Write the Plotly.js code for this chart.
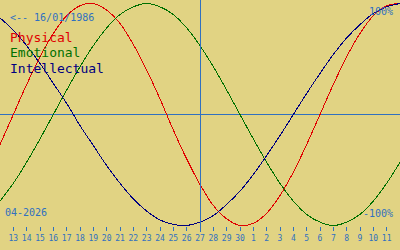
<!DOCTYPE html>
<html>
<head>
<meta charset="utf-8">
<script src="https://cdn.plot.ly/plotly-3.0.1.min.js"></script>
<style>
html,body{margin:0;padding:0;background:#e1d383;}
#chart{width:400px;height:250px;}
.scatterlayer path, .shapelayer path, .xtick, .crisp {shape-rendering: crispEdges;}
</style>
</head>
<body>
<div id="chart"></div>
<script>
// Dates shown (12 Apr 2026 .. 12 May 2026)
const dates = ['2026-04-12','2026-04-13','2026-04-14','2026-04-15','2026-04-16','2026-04-17','2026-04-18','2026-04-19','2026-04-20','2026-04-21','2026-04-22','2026-04-23','2026-04-24','2026-04-25','2026-04-26','2026-04-27','2026-04-28','2026-04-29','2026-04-30','2026-05-01','2026-05-02','2026-05-03','2026-05-04','2026-05-05','2026-05-06','2026-05-07','2026-05-08','2026-05-09','2026-05-10','2026-05-11','2026-05-12'];
const physical = [-0.27,0,0.27,0.52,0.73,0.89,0.98,1.00,0.94,0.82,0.63,0.40,0.14,-0.14,-0.40,-0.63,-0.82,-0.94,-1.00,-0.98,-0.89,-0.73,-0.52,-0.27,0,0.27,0.52,0.73,0.89,0.98,1.00];
const emotional = [-0.78,-0.62,-0.43,-0.22,0,0.22,0.43,0.62,0.78,0.90,0.97,1.00,0.97,0.90,0.78,0.62,0.43,0.22,0,-0.22,-0.43,-0.62,-0.78,-0.90,-0.97,-1.00,-0.97,-0.90,-0.78,-0.62,-0.43];
const intellectual = [0.87,0.76,0.62,0.46,0.28,0.10,-0.10,-0.28,-0.46,-0.62,-0.76,-0.87,-0.95,-0.99,-1.00,-0.97,-0.91,-0.81,-0.69,-0.54,-0.37,-0.19,0,0.19,0.37,0.54,0.69,0.81,0.91,0.97,1.00];
const tickDates = dates.slice(1, 30);
const tickLabels = ['13','14','15','16','17','18','19','20','21','22','23','24','25','26','27','28','29','30','1','2','3','4','5','6','7','8','9','10','11'];
const today = '2026-04-27';
const birthText = '<-- 16/01/1986';
const monthText = '04-2026';

const blue = '#3070c0';
const mono = 'DejaVu Sans Mono';
const mk = (y, c, n) => ({x: dates, y: y, name: n, type: 'scatter', mode: 'lines',
  line: {color: c, width: 1, shape: 'spline', smoothing: 1}, hoverinfo: 'skip'});

const data = [mk(physical, '#e00000', 'Physical'), mk(emotional, '#007000', 'Emotional'), mk(intellectual, '#000080', 'Intellectual')];

// plot area is 226 px tall
const H = 226;
const py = (px) => (H - px) / H;
const ann = (x, y, t, c, s, xa) => ({xref: 'paper', yref: 'paper', x: x, y: py(y), text: t, showarrow: false,
  xanchor: xa || 'left', yanchor: 'middle', font: {family: mono, size: s, color: c}, borderpad: 0});

const layout = {
  width: 400, height: 250,
  margin: {l: 0, r: 0, t: 0, b: 24},
  paper_bgcolor: '#e1d383', plot_bgcolor: '#e1d383',
  showlegend: false,
  xaxis: {type: 'date', range: [dates[0], dates[30]], showgrid: false, zeroline: false, showline: false,
    ticks: 'outside', ticklen: 4, tickwidth: 1, tickcolor: blue,
    tickvals: tickDates, ticktext: tickLabels,
    tickfont: {family: mono, size: 8, color: blue}},
  yaxis: {range: [-1.0045, 1.0315], showgrid: false, showticklabels: false, ticks: '',
    zeroline: false, fixedrange: true},
  shapes: [
    {type: 'line', xref: 'paper', yref: 'y', x0: 0, x1: 1, y0: 0, y1: 0, line: {color: blue, width: 1}, layer: 'below'},
    {type: 'line', xref: 'x', yref: 'paper', x0: today, x1: today, y0: -0.025, y1: 1, line: {color: blue, width: 1}}
  ],
  annotations: [
    ann(0.022, 17, birthText, blue, 10),
    ann(0.022, 37.5, 'Physical', '#e00000', 13),
    ann(0.022, 52.5, 'Emotional', '#007000', 13),
    ann(0.022, 68, 'Intellectual', '#000080', 13),
    ann(0.985, 11.5, '100%', blue, 10, 'right'),
    ann(0.985, 213, '-100%', blue, 10, 'right'),
    ann(0.01, 212, monthText, blue, 10)
  ]
};
Plotly.newPlot('chart', data, layout, {displayModeBar: false, staticPlot: true});
</script>
</body>
</html>
